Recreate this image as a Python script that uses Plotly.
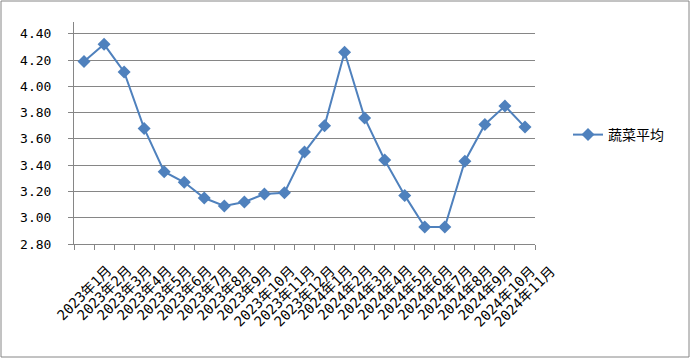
import plotly.graph_objects as go

categories = ["2023年1月","2023年2月","2023年3月","2023年4月","2023年5月","2023年6月",
              "2023年7月","2023年8月","2023年9月","2023年10月","2023年11月","2023年12月",
              "2024年1月","2024年2月","2024年3月","2024年4月","2024年5月","2024年6月",
              "2024年7月","2024年8月","2024年9月","2024年10月","2024年11月"]
veg_avg = [4.19, 4.32, 4.11, 3.68, 3.35, 3.27, 3.15, 3.09, 3.12, 3.18, 3.19, 3.50,
           3.70, 4.26, 3.76, 3.44, 3.17, 2.93, 2.93, 3.43, 3.71, 3.85, 3.69]
series_name = "蔬菜平均"

W, H = 691, 360
ML, MR, MT, MB = 74, 156, 22, 116
pw, ph = W - ML - MR, H - MT - MB

font = "DejaVu Sans Mono, Noto Sans CJK SC, sans-serif"
blue = "#4F81BD"
grid = "#868686"

fig = go.Figure()
fig.add_trace(go.Scatter(
    x=categories, y=veg_avg, name=series_name, mode="lines+markers",
    line=dict(color=blue, width=2),
    marker=dict(symbol="diamond", size=10, color=blue),
    showlegend=True,
))

fig.update_layout(
    width=W, height=H,
    margin=dict(l=ML, r=MR, t=MT, b=MB, autoexpand=False),
    paper_bgcolor="white", plot_bgcolor="white",
    font=dict(family=font, size=12, color="black"),
    showlegend=True,
    legend=dict(x=(568 - ML) / pw, y=(MT + ph - 135) / ph, xanchor="left", yanchor="middle",
                font=dict(family="Noto Sans CJK SC, sans-serif", size=14),
                bgcolor="rgba(0,0,0,0)"),
    xaxis=dict(type="category", tickson="boundaries", showticklabels=False,
               ticks="outside", ticklen=5, tickcolor=grid, automargin=False,
               showline=True, linecolor=grid, linewidth=1, showgrid=False,
               range=[-0.5, len(categories) - 0.5]),
    yaxis=dict(range=[2.8, 4.49], tick0=2.8, dtick=0.2, tickformat=".2f",
               ticks="outside", ticklen=5, tickcolor=grid, automargin=False,
               showline=True, linecolor=grid, linewidth=1, ticklabelstandoff=14,
               showgrid=True, gridcolor=grid, gridwidth=1, zeroline=False,
               tickfont=dict(size=13)),
)

# rotated category labels, centred under each category
for c in categories:
    fig.add_annotation(x=c, xref="x", y=-17 / ph, yref="paper", text=c,
                       textangle=-45, showarrow=False, xanchor="center", yanchor="top",
                       font=dict(size=14), borderpad=0)

# outer chart border
fig.add_shape(type="rect", xref="paper", yref="paper",
              x0=(1 - ML) / pw, x1=(W - 2 - ML) / pw,
              y0=(MT + ph - (H - 3)) / ph, y1=(MT + ph - 1) / ph,
              line=dict(color=grid, width=1), fillcolor="rgba(0,0,0,0)", layer="below")

fig.write_html("out.html", config={"displayModeBar": False},
               post_script="document.body.style.margin='0';")
